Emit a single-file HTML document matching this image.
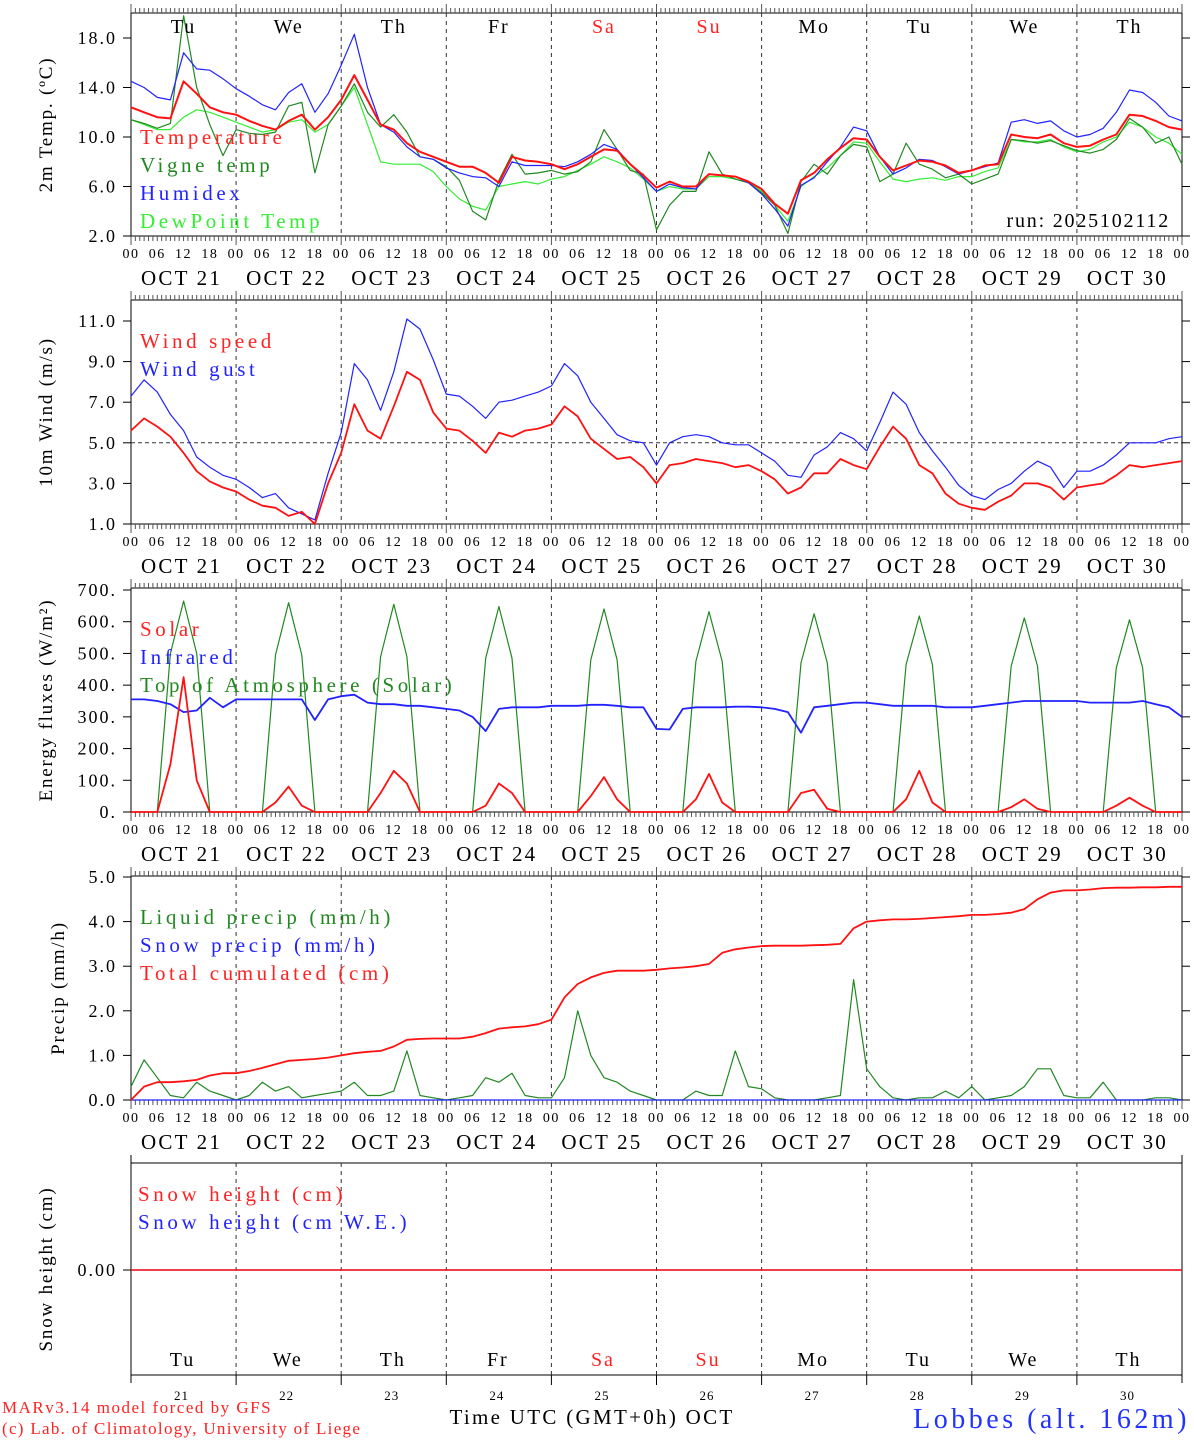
<!DOCTYPE html>
<html><head><meta charset="utf-8"><style>
body{margin:0;background:#fff;width:1194px;height:1440px;overflow:hidden}
svg{display:block}
text{font-family:"Liberation Serif","DejaVu Serif",serif}
</style></head><body>
<svg id="chart" width="1194" height="1440" viewBox="0 0 1194 1440" xmlns="http://www.w3.org/2000/svg"></svg>
<script>
// ---- data (3-hourly, Oct 21 00h to Oct 31 00h) ----
const days=["21","22","23","24","25","26","27","28","29","30"];
const dows=["Tu","We","Th","Fr","Sa","Su","Mo","Tu","We","Th"];
const temperature=[12.4,12.0,11.6,11.5,14.5,13.5,12.4,12.0, 11.8,11.3,10.9,10.6,11.3,11.8,10.6,11.6, 13.0,15.0,13.0,11.0,10.6,9.5,8.8,8.4, 8.0,7.6,7.6,7.1,6.3,8.4,8.1,8.0, 7.8,7.4,7.8,8.4,9.0,8.9,7.8,6.9, 5.9,6.4,6.0,6.0,7.0,6.9,6.8,6.4, 5.8,4.6,3.8,6.5,7.1,8.2,9.1,9.9, 9.8,8.4,7.3,7.7,8.1,8.0,7.7,7.1, 7.3,7.7,7.8,10.2,10.0,9.9,10.2,9.5, 9.2,9.3,9.8,10.2,11.8,11.7,11.3,10.8,10.6];
const humidex=[14.5,14.0,13.2,13.0,16.8,15.5,15.4,14.7, 13.9,13.3,12.6,12.2,13.6,14.3,12.0,13.5, 15.8,18.3,14.0,11.0,10.4,9.2,8.4,8.2, 7.5,7.1,6.8,6.7,6.0,8.0,7.7,7.7, 7.7,7.6,8.0,8.6,9.4,9.0,7.8,6.7, 5.6,6.2,5.9,5.8,7.0,6.9,6.8,6.3, 5.4,4.2,2.8,6.1,6.7,8.0,9.2,10.8, 10.5,8.4,7.0,7.5,8.2,8.1,7.6,7.0, 7.3,7.6,7.9,11.2,11.4,11.1,11.3,10.5, 10.0,10.2,10.7,12.0,13.8,13.6,12.8,11.7,11.3];
const vigne=[11.4,11.1,10.7,11.1,19.8,14.0,11.0,8.5, 10.6,10.3,10.2,10.4,12.5,12.8,7.1,11.0, 12.5,14.3,12.0,10.8,11.8,10.4,8.4,8.2, 7.6,6.5,4.0,3.3,6.5,8.6,7.0,7.1, 7.3,7.0,7.2,8.0,10.6,9.0,7.3,7.0, 2.5,4.5,5.6,5.6,8.8,7.0,6.6,6.3, 5.5,4.5,2.2,6.4,7.8,7.0,8.5,9.4, 9.2,6.4,7.0,9.5,7.8,7.4,6.7,7.0, 6.2,6.6,7.0,9.8,9.7,9.5,9.7,9.3, 8.9,8.7,9.0,9.8,11.5,10.8,9.5,10.0,7.8];
const dewpoint=[11.4,11.0,10.6,10.6,11.6,12.2,12.0,11.6, 11.2,10.8,10.4,10.6,11.2,11.4,10.4,11.0, 12.5,14.0,11.0,8.0,7.8,7.8,7.8,7.2, 6.0,5.0,4.4,4.1,6.0,6.2,6.4,6.2, 6.6,6.8,7.3,7.8,8.4,8.0,7.5,6.6, 5.6,6.0,5.8,5.8,6.8,6.8,6.6,6.3, 5.6,4.5,3.2,6.0,6.8,7.5,8.5,9.6, 9.5,8.0,6.6,6.4,6.6,6.7,6.5,6.8, 6.8,7.2,7.5,9.8,9.6,9.6,9.8,9.2, 8.8,9.0,9.6,10.0,11.2,10.8,10.0,9.5,8.6];
const windSpeed=[5.6,6.2,5.8,5.3,4.5,3.6,3.1,2.8, 2.6,2.2,1.9,1.8,1.4,1.6,1.0,3.0, 4.5,6.9,5.6,5.2,6.8,8.5,8.1,6.5, 5.7,5.6,5.1,4.5,5.5,5.3,5.6,5.7, 5.9,6.8,6.3,5.2,4.7,4.2,4.3,3.8, 3.0,3.9,4.0,4.2,4.1,4.0,3.8,3.9, 3.6,3.2,2.5,2.8,3.5,3.5,4.2,3.9, 3.7,4.8,5.8,5.2,3.9,3.5,2.5,2.0, 1.8,1.7,2.1,2.4,3.0,3.0,2.8,2.2, 2.8,2.9,3.0,3.4,3.9,3.8,3.9,4.0,4.1];
const windGust=[7.3,8.1,7.5,6.4,5.6,4.3,3.8,3.4, 3.2,2.8,2.3,2.5,1.8,1.5,1.2,3.5, 5.5,8.9,8.1,6.6,8.5,11.1,10.6,9.1, 7.4,7.3,6.8,6.2,7.0,7.1,7.3,7.5, 7.8,8.9,8.3,7.0,6.2,5.4,5.1,5.0, 3.9,5.0,5.3,5.4,5.3,5.0,4.9,4.9, 4.5,4.1,3.4,3.3,4.4,4.8,5.5,5.2, 4.6,6.0,7.5,6.9,5.5,4.6,3.8,2.9, 2.4,2.2,2.7,3.0,3.6,4.1,3.8,2.8, 3.6,3.6,3.9,4.4,5.0,5.0,5.0,5.2,5.3];
const solar=[0,0,0,150,425,100,0,0, 0,0,0,30,80,20,0,0, 0,0,0,60,130,90,0,0, 0,0,0,20,90,60,0,0, 0,0,0,50,110,40,0,0, 0,0,0,40,120,30,0,0, 0,0,0,60,70,10,0,0, 0,0,0,40,130,30,0,0, 0,0,0,15,40,10,0,0, 0,0,0,20,45,20,0,0,0];
const infrared=[355,355,350,340,315,320,360,330, 355,355,355,355,355,355,290,355, 365,370,345,340,340,335,335,330, 325,320,300,255,325,330,330,330, 335,335,335,338,338,335,330,330, 262,260,325,330,330,330,332,332, 330,325,315,250,330,335,340,345, 345,340,335,335,335,335,330,330, 330,335,340,345,350,350,350,350, 350,345,345,345,345,350,340,330,300];
const toaSolar=[0,0,0,500,665,500,0,0, 0,0,0,495,660,495,0,0, 0,0,0,490,655,490,0,0, 0,0,0,485,648,485,0,0, 0,0,0,480,640,480,0,0, 0,0,0,475,632,475,0,0, 0,0,0,470,625,470,0,0, 0,0,0,465,618,465,0,0, 0,0,0,460,612,460,0,0, 0,0,0,455,606,455,0,0,0];
const liquidPrecip=[0.3,0.9,0.5,0.1,0.05,0.4,0.2,0.1, 0,0.1,0.4,0.2,0.3,0.05,0.1,0.15, 0.2,0.4,0.1,0.1,0.2,1.1,0.1,0.05, 0,0.05,0.1,0.5,0.4,0.6,0.1,0.05, 0.05,0.5,2.0,1.0,0.5,0.4,0.2,0.1, 0,0,0,0.2,0.1,0.1,1.1,0.3, 0.25,0.05,0,0,0,0.05,0.1,2.7, 0.7,0.3,0.05,0,0.05,0.05,0.2,0.05, 0.3,0,0.05,0.1,0.3,0.7,0.7,0.1, 0.05,0.05,0.4,0,0,0,0.05,0.05,0];
const snowPrecip=new Array(81).fill(0);
const cumulated=[0,0.3,0.4,0.4,0.42,0.45,0.55,0.6, 0.6,0.65,0.72,0.8,0.88,0.9,0.92,0.95, 1.0,1.05,1.08,1.1,1.2,1.35,1.37,1.38, 1.38,1.38,1.42,1.5,1.6,1.63,1.65,1.7, 1.8,2.3,2.6,2.75,2.85,2.9,2.9,2.9, 2.92,2.95,2.97,3.0,3.05,3.3,3.38,3.42, 3.45,3.46,3.46,3.46,3.47,3.48,3.5,3.85, 4.0,4.03,4.05,4.05,4.06,4.08,4.1,4.12, 4.15,4.15,4.17,4.2,4.28,4.5,4.65,4.7, 4.7,4.72,4.75,4.76,4.76,4.77,4.77,4.78,4.78];
const snowHeight=new Array(81).fill(0);
const snowHeightWE=new Array(81).fill(0);

const NS="http://www.w3.org/2000/svg";
const svg=document.getElementById('chart');
const X0=131,X1=1182;
function xAt(i){return X0+(i*3)*(X1-X0)/240;}
function xH(h){return X0+h*(X1-X0)/240;}
function mk(tag,attrs,parent){const e=document.createElementNS(NS,tag);for(const k in attrs)e.setAttribute(k,attrs[k]);(parent||svg).appendChild(e);return e;}
function txt(s,x,y,size,fill,anchor,parent,ls){const t=mk('text',{x:x,y:y,'font-size':size,fill:fill||'#000','text-anchor':anchor||'start'},parent);if(ls)t.setAttribute('letter-spacing',ls);t.textContent=s;return t;}

function panel(cfg){
  const g=mk('g',{});
  
  
  const y=v=>cfg.bot+(v-cfg.vmin)*(cfg.vy-cfg.bot)/(cfg.vmax-cfg.vmin);
  mk('rect',{x:X0,y:cfg.top,width:X1-X0,height:cfg.bot-cfg.top,fill:'none',stroke:'#000','stroke-width':1},g);
  mk('line',{x1:X0,y1:cfg.top-8,x2:X0,y2:cfg.bot+8,stroke:'#000'},g);
  mk('line',{x1:X1,y1:cfg.top-8,x2:X1,y2:cfg.bot+8,stroke:'#000'},g);
  for(let h=0;h<=240;h++){
    const x=xH(h), L=(h%24==0)?9:5;
    if(!cfg.noTopTicks) mk('line',{x1:x,y1:cfg.top,x2:x,y2:cfg.top-L,stroke:'#555','stroke-width':1},g);
    if(!cfg.noBotTicks) mk('line',{x1:x,y1:cfg.bot,x2:x,y2:cfg.bot+L,stroke:'#555','stroke-width':1},g);
  }
  for(let d=1;d<10;d++){const x=xH(d*24);mk('line',{x1:x,y1:cfg.top,x2:x,y2:cfg.bot,stroke:'#333','stroke-dasharray':'4,4'},g);}
  if(cfg.daySep){for(let d=1;d<10;d++){const x=xH(d*24);mk('line',{x1:x,y1:cfg.bot,x2:x,y2:cfg.bot+10,stroke:'#000'},g);}}
  cfg.yticks.forEach((v,k)=>{const yy=y(v);mk('line',{x1:X0-8,y1:yy,x2:X0,y2:yy,stroke:'#000'},g);mk('line',{x1:X1,y1:yy,x2:X1+8,y2:yy,stroke:'#000'},g);
    const t=txt(cfg.ylabels[k],X0-14,yy+6,18,'#000','end',g,2);
    });
  if(cfg.hline!==undefined){mk('line',{x1:X0,y1:y(cfg.hline),x2:X1,y2:y(cfg.hline),stroke:'#333','stroke-dasharray':'4,3'},g);}
  const tt=txt(cfg.title,0,0,19,'#000','middle',g,1.8);
  tt.setAttribute('transform',`translate(${cfg.tx},${(cfg.top+cfg.bot)/2}) rotate(-90)`);
  
  if(cfg.hourLabels){
    for(let h=0;h<=240;h+=6){const lab=String(h%24).padStart(2,'0');const t=txt(lab,xH(h),cfg.bot+22,14,'#000','middle',g,1.5);
      }
    days.forEach((d,k)=>{const t=txt('OCT '+d,xH(k*24+12)-2,cfg.bot+49,21,'#000','middle',g,2.2);
      });
  }
  cfg.series.forEach(s=>{
    const pts=s.data.map((v,i)=>xAt(i).toFixed(1)+','+Math.max(cfg.top,Math.min(cfg.bot,y(v))).toFixed(1)).join(' ');
    const p=mk('polyline',{points:pts,fill:'none',stroke:s.color,'stroke-width':s.w||1.2,'stroke-linejoin':'round'},g);
    
  });
  cfg.legend.forEach((l,k)=>{const t=txt(l[0],cfg.lx||140,cfg.ly+k*28,21,l[1],'start',g,3.6);
    });
  return g;
}

panel({name:'temperature-panel',top:13,bot:236,vmin:2,vmax:18,vy:38,
  yticks:[2,6,10,14,18],ylabels:['2.0','6.0','10.0','14.0','18.0'],title:'2m Temp. (ºC)',tx:52,hourLabels:true,
  series:[{name:'dewpoint-line',data:dewpoint,color:'#33ee33'},{name:'vigne-temp-line',data:vigne,color:'#228822'},{name:'humidex-line',data:humidex,color:'#2222ff'},{name:'temperature-line',data:temperature,color:'#ff1111',w:2}],
  legend:[['Temperature','#ff2222'],['Vigne temp','#228822'],['Humidex','#2222ff'],['DewPoint Temp','#33ee33']],ly:144});
panel({name:'wind-panel',top:300,bot:524,vmin:1,vmax:11,vy:321,
  yticks:[1,3,5,7,9,11],ylabels:['1.0','3.0','5.0','7.0','9.0','11.0'],title:'10m Wind (m/s)',tx:52,hourLabels:true,hline:5,
  series:[{name:'wind-gust-line',data:windGust,color:'#2222ff'},{name:'wind-speed-line',data:windSpeed,color:'#ff1111',w:1.8}],
  legend:[['Wind speed','#ff2222'],['Wind gust','#2222ff']],ly:348});
panel({name:'energy-panel',top:588,bot:812,vmin:0,vmax:700,vy:590,
  yticks:[0,100,200,300,400,500,600,700],ylabels:['0.','100.','200.','300.','400.','500.','600.','700.'],title:'Energy fluxes (W/m²)',tx:52,hourLabels:true,
  series:[{name:'toa-solar-line',data:toaSolar,color:'#228822'},{name:'infrared-line',data:infrared,color:'#2222ff',w:1.8},{name:'solar-line',data:solar,color:'#ff1111',w:1.8}],
  legend:[['Solar','#ff2222'],['Infrared','#2222ff'],['Top of Atmosphere (Solar)','#228822']],ly:636});
panel({name:'precip-panel',top:876,bot:1100,vmin:0,vmax:5,vy:877,
  yticks:[0,1,2,3,4,5],ylabels:['0.0','1.0','2.0','3.0','4.0','5.0'],title:'Precip (mm/h)',tx:64,hourLabels:true,
  series:[{name:'liquid-precip-line',data:liquidPrecip,color:'#228822'},{name:'snow-precip-line',data:snowPrecip,color:'#2222ff'},{name:'cumulated-precip-line',data:cumulated,color:'#ff1111',w:1.8}],
  legend:[['Liquid precip (mm/h)','#228822'],['Snow precip (mm/h)','#2222ff'],['Total cumulated (cm)','#ff2222']],ly:924});
panel({name:'snow-panel',top:1163,bot:1375,vmin:0,vmax:1,vy:1163,noTopTicks:true,noBotTicks:true,daySep:true,
  yticks:[],ylabels:[],title:'Snow height (cm)',tx:52,hourLabels:false,
  series:[],legend:[['Snow height (cm)','#ff2222'],['Snow height (cm W.E.)','#2222ff']],ly:1201,lx:138});
(function(){
  const y=v=>1270-v*100;
  mk('line',{x1:X0-8,y1:1270,x2:X0,y2:1270,stroke:'#000'});
  const lb=txt('0.00',X0-14,1276,18,'#000','end',null,2);
  
  
  const p1=mk('polyline',{points:snowHeightWE.map((v,i)=>xAt(i)+','+y(v)).join(' '),fill:'none',stroke:'#2222ff','stroke-width':1.2});
  
  
  const p2=mk('polyline',{points:snowHeight.map((v,i)=>xAt(i)+','+y(v)).join(' '),fill:'none',stroke:'#ff1111','stroke-width':1.5});
  
  
})();
dows.forEach((d,k)=>{
  const col=(d=='Sa'||d=='Su')?'#ff2222':'#000';
  const t1=txt(d,xH(k*24+12),33,20,col,'middle',null,2);
  
  
  const t2=txt(d,xH(k*24+12)-1,1366,20,col,'middle',null,2);
  
  
  const t3=txt(days[k],xH(k*24+12)-2,1400,13,'#000','middle',null,1);
  
  
});
const r=txt('run: 2025102112',1170,227,20,'#000','end',null,1.8);


const xt=txt('Time UTC (GMT+0h) OCT',592,1424,21,'#000','middle',null,2.3);


const c1=txt('MARv3.14 model forced by GFS',2,1413,17,'#ff2222','start',null,1.5);


const c2=txt('(c) Lab. of Climatology, University of Liege',2,1434,17,'#ff2222','start',null,1.3);


const st=txt('Lobbes (alt. 162m)',1190,1428,28,'#2233ff','end',null,3.5);


</script>
</body></html>
